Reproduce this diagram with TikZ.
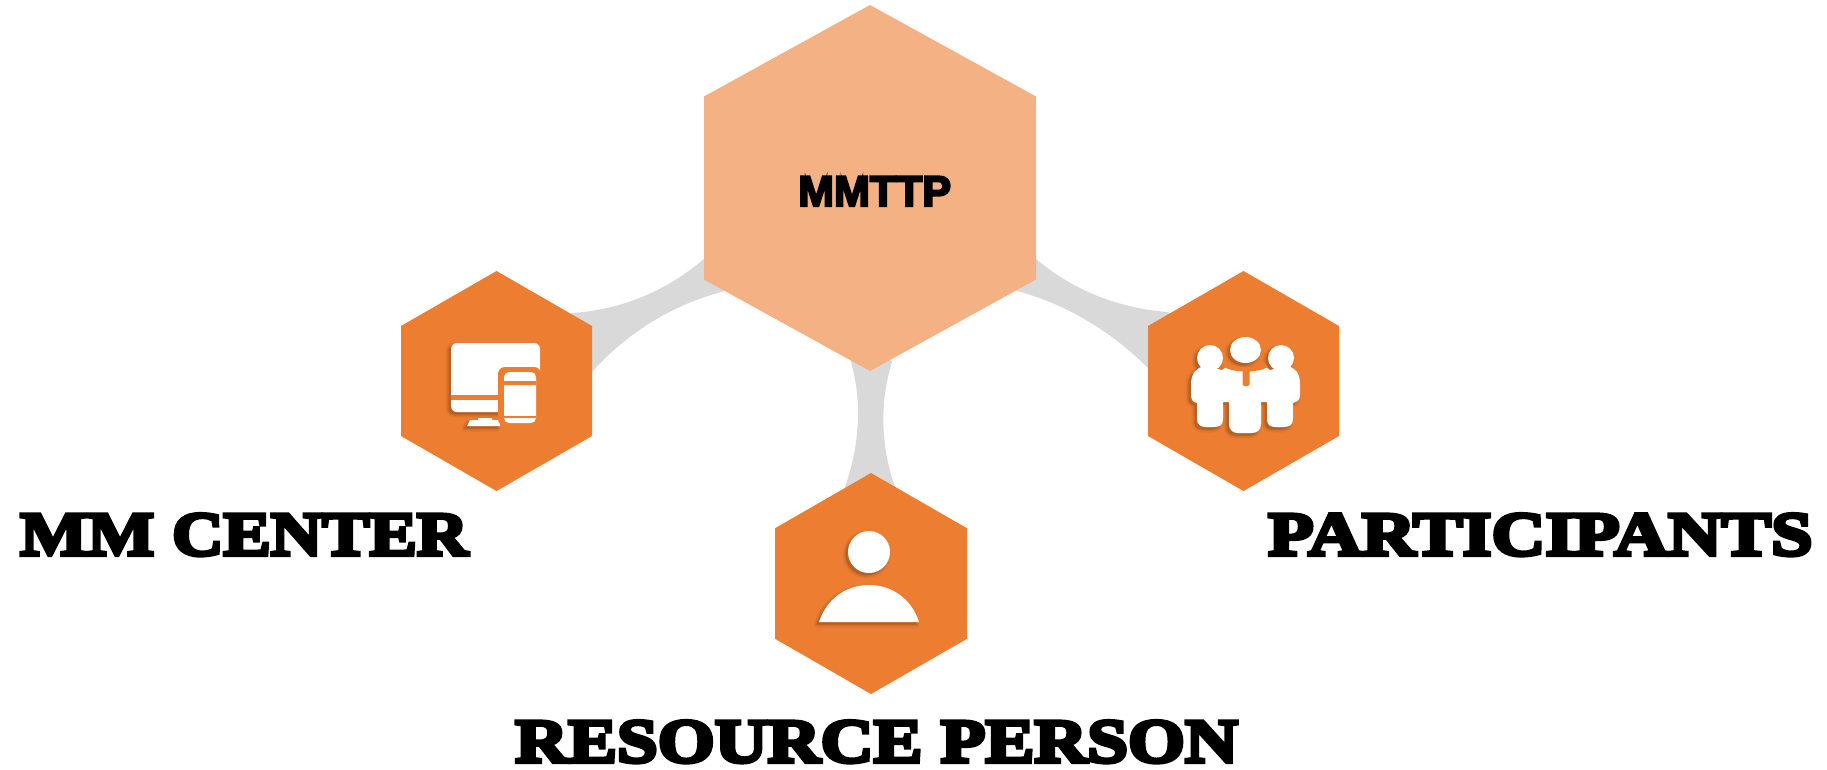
\documentclass[tikz,border=0pt]{standalone}
\usepackage{graphicx}
\usepackage{fontspec}
\usetikzlibrary{calc}
\newfontfamily\labelfont[FakeBold=6.5,FakeStretch=1.2]{Liberation Serif Bold}
\newfontfamily\hubfont[FakeBold=5,FakeStretch=1.0]{Liberation Sans Bold}
\definecolor{hubfill}{HTML}{F4B183}
\definecolor{hexfill}{HTML}{ED7D31}
\definecolor{linkfill}{HTML}{D9D9D9}
\definecolor{iconshade}{HTML}{8A4A1C}
\tikzset{
  linkband/.style={fill=linkfill,draw=none},
  bigtext/.style={inner sep=0pt,anchor=base west,font=\labelfont\fontsize{62}{66}\selectfont,text=black},
  hubtext/.style={inner sep=0pt,anchor=base west,font=\hubfont\fontsize{43}{47}\selectfont,text=black},
  iconwhite/.style={fill=white,draw=none},
  iconcut/.style={fill=hexfill,draw=none},
}
% #1 name, #2 cx, #3 cy, #4 half width, #5 half height, #6 colour
\newcommand{\hexshape}[6]{%
  \coordinate (#1) at (#2,#3);
  \fill[fill=#6] ($(#1)+(0,-#5)$) -- ($(#1)+(#4,-#5/2)$) -- ($(#1)+(#4,#5/2)$)
     -- ($(#1)+(0,#5)$) -- ($(#1)+(-#4,#5/2)$) -- ($(#1)+(-#4,-#5/2)$) -- cycle;
}
% soft shadow behind an icon path: #1 path
\newcommand{\softshade}[1]{%
  \begin{scope}[shift={(-2.5,2.5)}]
    \fill[iconshade,opacity=.10,draw=iconshade,line width=6pt,line join=round] #1;
    \fill[iconshade,opacity=.16,draw=iconshade,line width=3pt,line join=round] #1;
    \fill[iconshade,opacity=.22] #1;
  \end{scope}
}
\begin{document}
\begin{tikzpicture}[x=1pt,y=-1pt]
\useasboundingbox[fill=white] (0,0) rectangle (1827,770);

% connector anchors
\coordinate (huba) at (704,259);  \coordinate (hubb) at (725,291);
\coordinate (lefta) at (572,313); \coordinate (leftb) at (592,372);
\coordinate (hubc) at (1036,259); \coordinate (hubd) at (1017,291);
\coordinate (righta) at (1167,312); \coordinate (rightb) at (1148,368);
\coordinate (hube) at (851,362);  \coordinate (hubf) at (892,362);
\coordinate (downa) at (845,487); \coordinate (downb) at (895,487);

% grey curved connectors (under the hexagons)
\fill[linkband] (huba) .. controls (665,292) and (620,310) .. (lefta)
   -- (540,330) -- (leftb) .. controls (625,335) and (670,305) .. (hubb) -- (760,270) -- cycle;
\fill[linkband] (hubc) .. controls (1075,292) and (1120,308) .. (righta)
   -- (1200,330) -- (rightb) .. controls (1115,335) and (1070,305) .. (hubd) -- (980,270) -- cycle;
\fill[linkband] (hube) .. controls (862,400) and (860,445) .. (downa)
   -- (870,510) -- (downb) .. controls (880,445) and (880,400) .. (hubf) -- (870,340) -- cycle;

% hexagons
\hexshape{hub}{870}{188}{166}{183}{hubfill}
\hexshape{mmc}{496.5}{381}{95.5}{110}{hexfill}
\hexshape{ptc}{1243.5}{381}{95.5}{110}{hexfill}
\hexshape{rsp}{871}{583.5}{96}{110.5}{hexfill}

% monitor and phone icon
\def\monitorpath{(451,349) arc (180:270:6) -- (534,343) arc (270:360:6) -- (540,412) -- (457,412) arc (90:180:6) -- cycle}
\softshade{\monitorpath}
\softshade{(467,426) -- (470,420) -- (500,420) -- (500,426) -- cycle}
\fill[iconwhite] \monitorpath;
\fill[iconcut] (451,395) rectangle (500,400);
\fill[iconwhite] (467,426) -- (470,420) -- (478,420) -- (478,418) -- (492,418) -- (492,420) -- (500,420) -- (500,426) -- (469,426) -- cycle;
\fill[iconcut,rounded corners=7pt] (498,367) rectangle (541,426);
\fill[iconwhite,rounded corners=5pt] (504,372) rectangle (536,423);
\fill[iconcut] (504,381) rectangle (536,385);
\fill[iconcut] (504,416) rectangle (536,418);

% people icon
\def\peoplepath{(1191,385) .. controls (1191,372) and (1197,368) .. (1204,366)
  -- (1222,370) -- (1226,367) -- (1266,367) -- (1270,370) -- (1287,366)
  .. controls (1295,368) and (1300,372) .. (1300,385) -- (1300,395)
  .. controls (1300,400) and (1297,402) .. (1293,403) -- (1293,419)
  .. controls (1293,425) and (1289,427) .. (1284,427) -- (1276,427)
  .. controls (1270,427) and (1267,425) .. (1267,419) -- (1267,402) -- (1261,402)
  -- (1261,424) .. controls (1261,430) and (1257,433) .. (1252,433) -- (1238,433)
  .. controls (1233,433) and (1229,430) .. (1229,424) -- (1229,402) -- (1223,402)
  -- (1223,419) .. controls (1223,425) and (1220,427) .. (1214,427) -- (1206,427)
  .. controls (1201,427) and (1197,425) .. (1197,419) -- (1197,403)
  .. controls (1193,402) and (1191,400) .. (1191,395) -- cycle}
\softshade{\peoplepath}
\softshade{(1245.5,350) ellipse [x radius=15.5,y radius=13]}
\softshade{(1210,358) circle [radius=13]}
\softshade{(1281,358) circle [radius=13]}
\fill[iconwhite] \peoplepath;
\fill[iconcut] (1228,362) .. controls (1235,369) and (1257,369) .. (1264,362)
   -- (1268,367) .. controls (1258,373) and (1234,373) .. (1224,367) -- cycle;
\fill[iconcut,rounded corners=1.5pt] (1242.5,370) rectangle (1249.5,386);
\fill[iconwhite] (1245.5,350) ellipse [x radius=15.5,y radius=13];
\fill[iconwhite] (1210,358) circle [radius=13];
\fill[iconwhite] (1281,358) circle [radius=13];

% person icon
\def\bodypath{(819,622) .. controls (826,600) and (845,585) .. (869,585) .. controls (893,585) and (912,600) .. (919,622) -- cycle}
\softshade{(869,552) circle [radius=21]}
\softshade{\bodypath}
\fill[iconwhite] (869,552) circle [radius=21];
\fill[iconwhite] \bodypath;

% labels
\node[hubtext] (hublabel) at (798,206) {MMTTP};
\node[bigtext] (mmlabel) at (20,555) {\scalebox{0.955}[1]{MM CENTER}};
\node[bigtext] (ptlabel) at (1268,555) {PARTICIPANTS};
\node[bigtext] (rslabel) at (515,762) {\scalebox{0.985}[1]{RESOURCE PERSON}};
\end{tikzpicture}
\end{document}
